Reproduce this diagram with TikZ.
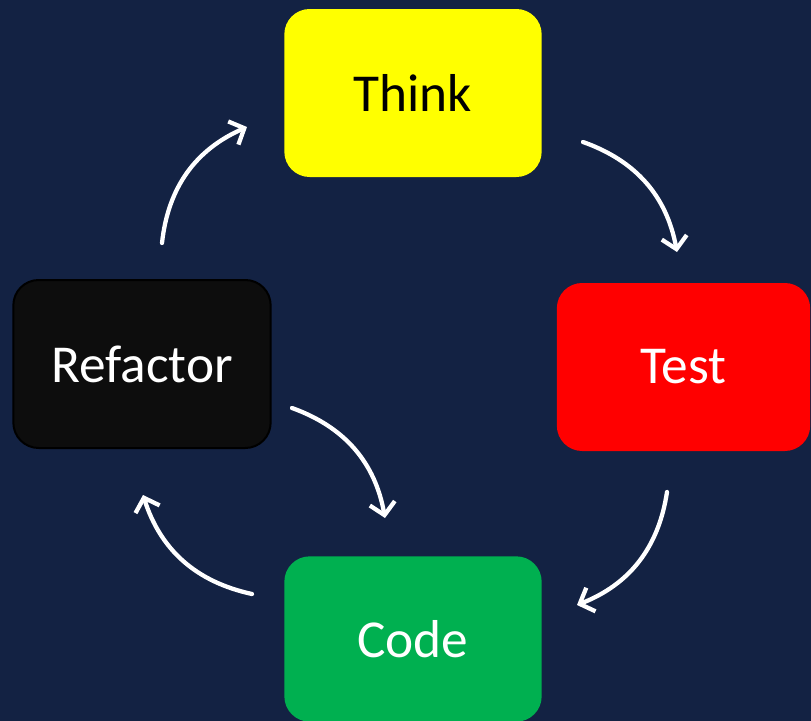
\documentclass[tikz,border=0pt]{standalone}
\usepackage{fontspec}
\setmainfont{Carlito}
\usetikzlibrary{arrows.meta}
\definecolor{navybg}{RGB}{19,34,67}
\definecolor{codegreen}{RGB}{0,176,80}
\definecolor{nearblack}{RGB}{13,13,13}
\definecolor{thinkyellow}{RGB}{255,255,0}

\begin{document}
\begin{tikzpicture}[x=0.75pt,y=-0.75pt]
        \tikzstyle{every node}=[rounded corners=19pt, minimum width=193pt, minimum height=126pt, inner sep=0pt, font=\fontsize{40}{46}\selectfont]
        \tikzstyle{cycle arrow}=[draw=white, line width=3.2pt, line cap=round, -{Straight Barb[length=9pt,width=19pt,line width=3.2pt]}, bend left=30]
        \fill[navybg] (0,0) rectangle (811,721);
        \useasboundingbox (0,0) rectangle (811,721);
        \node[fill=thinkyellow, text=black] (think) at (413,93) {Think};
        \node[fill=red, text=white, minimum width=190pt] (test) at (683.5,367) {Test};
        \node[fill=codegreen, text=white, minimum height=124pt] (code) at (413,639) {Code};
        \node[fill=nearblack, draw=black, line width=1.5pt, text=white] (refactor) at (142,364) {Refactor};
        % free ends of the curved arrows
        \coordinate (r1) at (162,243); \coordinate (t1) at (247,127);
        \coordinate (t2) at (583,142); \coordinate (s2) at (677,252);
        \coordinate (s3) at (667,492); \coordinate (c3) at (577,605);
        \coordinate (c4) at (252,594); \coordinate (r4) at (143,495);
        \coordinate (r5) at (292,408); \coordinate (c5) at (385,518);
        \draw[cycle arrow] (r1) to (t1);
        \draw[cycle arrow] (t2) to (s2);
        \draw[cycle arrow] (s3) to (c3);
        \draw[cycle arrow] (c4) to (r4);
        \draw[cycle arrow] (r5) to (c5);
    \end{tikzpicture}
\end{document}
